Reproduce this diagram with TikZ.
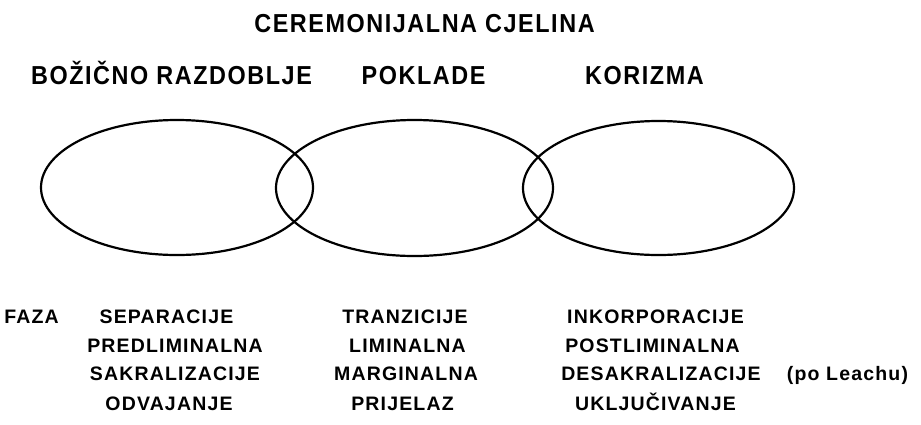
\documentclass[tikz,border=0pt]{standalone}
\usepackage{fontspec}
\setmainfont{Liberation Sans}
\newfontfamily\headfont[LetterSpace=6, FakeStretch=0.9]{Liberation Sans}
\newfontfamily\rowfont[LetterSpace=6]{Liberation Sans}

\begin{document}
\begin{tikzpicture}[x=1pt, y=-1pt,
    ring/.style={line width=2.2pt},
    head/.style={font=\headfont\bfseries\fontsize{26}{27}\selectfont, anchor=base, inner sep=0pt},
    phase/.style={font=\rowfont\bfseries\fontsize{19.5}{20}\selectfont, anchor=base, inner sep=0pt}]
      % Size
      \useasboundingbox (0, 0) rectangle (921, 424);

      % circles
      \draw[ring] (177, 187.5) ellipse (136 and 67.5);
      \draw[ring] (414.5, 188) ellipse (138.5 and 68);
      \draw[ring] (658.5, 188) ellipse (135.5 and 67);

      % headings
      \node[head] (cjelina) at (424.5, 32) {CEREMONIJALNA CJELINA};
      \node[head] (bozic) at (171.5, 84) {BOŽIČNO RAZDOBLJE};
      \node[head] (poklade) at (423.5, 84) {POKLADE};
      \node[head] (korizma) at (644.5, 84) {KORIZMA};

      % phases
      \node[phase] (faza) at (31.5, 323) {FAZA};
      \node[phase] (sep) at (166.5, 323) {SEPARACIJE};
      \node[phase] (predlim) at (175, 352) {PREDLIMINALNA};
      \node[phase] (sakral) at (175, 380) {SAKRALIZACIJE};
      \node[phase] (odvaj) at (169, 410) {ODVAJANJE};

      \node[phase] (tranz) at (405, 323) {TRANZICIJE};
      \node[phase] (lim) at (407.5, 352) {LIMINALNA};
      \node[phase] (marg) at (406, 380) {MARGINALNA};
      \node[phase] (prijelaz) at (402.5, 410) {PRIJELAZ};

      \node[phase] (inkorp) at (655.5, 323) {INKORPORACIJE};
      \node[phase] (postlim) at (652.5, 352) {POSTLIMINALNA};
      \node[phase] (desakral) at (661, 380) {DESAKRALIZACIJE};
      \node[phase] (uklj) at (655.5, 410) {UKLJUČIVANJE};
      \node[phase] (leach) at (847.5, 380) {(po Leachu)};
\end{tikzpicture}
\end{document}
